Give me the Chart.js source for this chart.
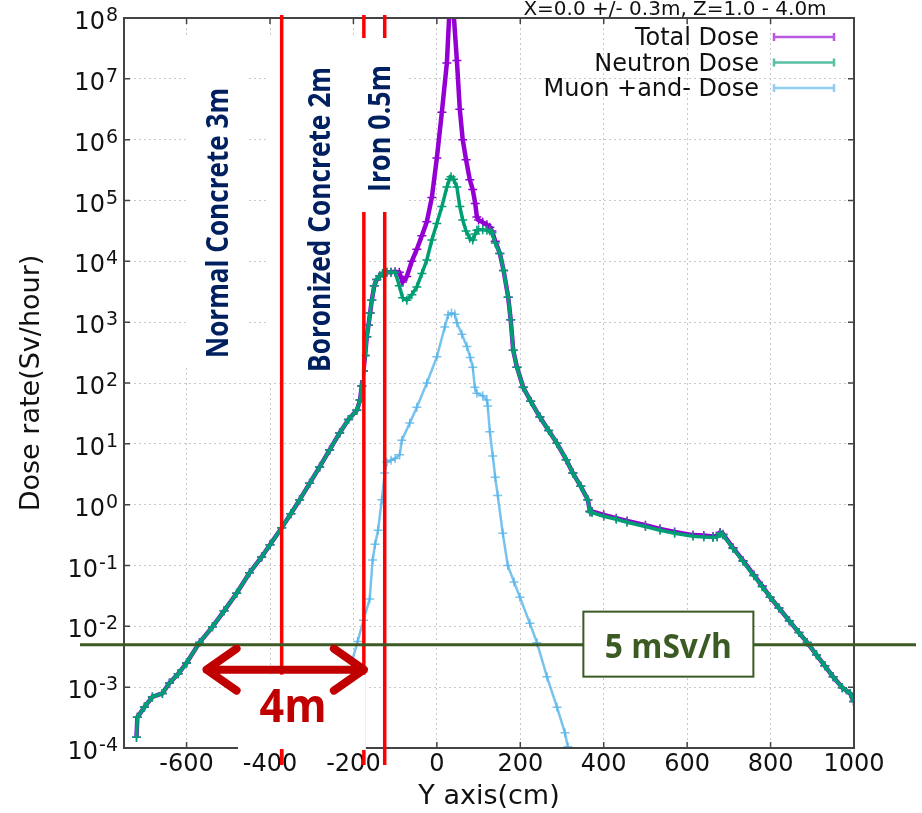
<!DOCTYPE html>
<html lang="en">
<head>
<meta charset="UTF-8">
<title>Dose rate along Y axis</title>
<script src="https://cdn.jsdelivr.net/npm/chart.js"></script>
<style>
    body { margin: 0; background: #fff; }
    #wrap { width: 922px; height: 813px; }
</style>
</head>
<body>
<div id="wrap"><canvas id="chart" width="922" height="813"></canvas></div>
<script>
// Y position (cm) shared by total and neutron dose
const posTN = [-720, -718, -701, -682, -658, -641, -620, -600, -569, -538,
    -510, -480, -449, -420, -400, -372, -350, -329, -305, -281,
    -257, -233, -212, -192, -184, -180, -176, -172, -168, -164,
    -160, -156, -150, -144, -137, -130, -120, -110, -100, -90,
    -82, -72, -60, -48, -36, -24, -12, 0, 12, 24,
    30, 34, 40, 48, 55, 62, 70, 79, 86, 92,
    96, 100, 110, 120, 127, 132, 140, 151, 160, 171,
    177, 183, 192, 207, 225, 247, 268, 288, 310, 326,
    345, 362, 367, 372, 400, 430, 456, 500, 535, 570,
    614, 640, 662, 672, 679, 686, 710, 734, 760, 780,
    799, 820, 845, 868, 888, 910, 930, 950, 972, 991, 999];

// Sv/hour
const totalDose = [1.5e-4, 3.2e-4, 4.7e-4, 6.9e-4, 7.9e-4, 1.17e-3, 1.66e-3, 2.5e-3, 5.4e-3, 9.8e-3,
    0.018, 0.035, 0.076, 0.138, 0.219, 0.417, 0.708, 1.2, 2.24, 4.17,
    7.94, 15.1, 25.1, 35.5, 52.5, 89, 158, 282, 575, 891,
    1410, 2290, 3980, 5010, 5750, 6310, 6610, 6610, 6760, 6610,
    4570, 5620, 10000, 15800, 26300, 44700, 112000, 501000, 2.82e6, 1.82e7,
    1.26e8, 3.16e8, 1.26e8, 2.0e7, 3.16e6, 1.0e6, 468000, 219000, 151000, 89100,
    53700, 47900, 43700, 39800, 36300, 31600, 21400, 13500, 7080, 2570,
    1100, 347, 182, 85.1, 50.1, 27.5, 16.6, 10.2, 5.5, 3.31,
    2.0, 1.2, 0.78, 0.77, 0.68, 0.6, 0.54, 0.46, 0.4, 0.355,
    0.316, 0.31, 0.3, 0.305, 0.35, 0.326, 0.196, 0.12, 0.0695, 0.046,
    0.0302, 0.02, 0.0123, 7.9e-3, 5.4e-3, 3.4e-3, 2.24e-3, 1.48e-3, 9.8e-4, 7.9e-4, 5.8e-4];

const neutronDose = [1.5e-4, 3.2e-4, 4.7e-4, 6.9e-4, 7.9e-4, 1.17e-3, 1.66e-3, 2.5e-3, 5.4e-3, 9.8e-3,
    0.018, 0.035, 0.076, 0.138, 0.219, 0.417, 0.708, 1.2, 2.24, 4.17,
    7.94, 15.1, 25.1, 35.5, 52.5, 89, 158, 282, 575, 891,
    1410, 2290, 3980, 5010, 5750, 6310, 6610, 6610, 6610, 3980,
    2510, 2290, 2820, 3800, 6310, 10500, 22400, 41700, 79400, 166000,
    224000, 245000, 224000, 166000, 79400, 47900, 31600, 24000, 22400, 28200,
    32400, 33100, 33100, 32400, 31600, 29500, 20000, 13500, 7080, 2570,
    1100, 347, 182, 85.1, 50.1, 27.5, 16.6, 10.2, 5.5, 3.31,
    2.0, 1.2, 0.759, 0.741, 0.646, 0.575, 0.513, 0.437, 0.38, 0.339,
    0.302, 0.295, 0.288, 0.295, 0.339, 0.316, 0.19, 0.117, 0.0676, 0.0447,
    0.0302, 0.02, 0.0123, 7.9e-3, 5.4e-3, 3.4e-3, 2.24e-3, 1.48e-3, 9.8e-4, 7.9e-4, 5.8e-4];

const posMuon = [-204, -190, -176, -161, -154, -148, -141, -132, -125, -120,
    -110, -100, -89, -84, -65, -48, -24, 0, 19, 27,
    35, 43, 48, 60, 72, 80, 86, 91, 96, 110,
    120, 122, 127, 134, 140, 146, 158, 170, 185, 199,
    223, 240, 264, 288, 307, 314];

const muonDose = [2.57e-3, 5.62e-3, 0.0126, 0.0282, 0.123, 0.224, 0.38, 1.2, 3.31, 5.01,
    5.37, 5.75, 6.61, 11.5, 21.9, 39.8, 100, 269, 832, 1320,
    1410, 1350, 977, 631, 398, 263, 182, 85.1, 67.6, 61.7,
    52.5, 41.7, 15.8, 6.31, 2.82, 1.41, 0.339, 0.1, 0.0537, 0.0302,
    0.0112, 5.37e-3, 1.48e-3, 4.68e-4, 1.78e-4, 1.05e-4];

const xTicks = [-600, -400, -200, 0, 200, 400, 600, 800, 1000];
const yTicks = [1e-4, 1e-3, 1e-2, 1e-1, 1, 1e1, 1e2, 1e3, 1e4, 1e5, 1e6, 1e7, 1e8];
const yExponents = ['-4', '-3', '-2', '-1', '0', '1', '2', '3', '4', '5', '6', '7', '8'];

// shield layer boundaries (cm) and the 5 mSv/h limit
const wallEdges = [-372, -175, -125];
const limitDose = 5e-3;
const seriesNames = ['Total Dose', 'Neutron Dose', 'Muon +and- Dose'];
const seriesColors = ['#9400d3', '#009e73', '#56b4e9'];

const pts = (xs, ys) => xs.map((x, i) => ({ x: x, y: ys[i] }));
const FONT = "'DejaVu Sans', sans-serif";

// draws text rotated bottom-to-top, squeezed to a target length
function vText(ctx, text, x, y, len, font, color) {
    ctx.save();
    ctx.font = font;
    ctx.fillStyle = color;
    ctx.textAlign = 'left';
    ctx.textBaseline = 'alphabetic';
    ctx.translate(x, y);
    ctx.rotate(-Math.PI / 2);
    ctx.scale(len / ctx.measureText(text).width, 1);
    ctx.fillText(text, 0, 0);
    ctx.restore();
}
function hText(ctx, text, cx, y, len, font, color) {
    ctx.save();
    ctx.font = font;
    ctx.fillStyle = color;
    ctx.textAlign = 'center';
    ctx.textBaseline = 'alphabetic';
    ctx.translate(cx, y);
    ctx.scale(len / ctx.measureText(text).width, 1);
    ctx.fillText(text, 0, 0);
    ctx.restore();
}

const decor = {
    id: 'decor',
    afterDraw(chart) {
        const { ctx, chartArea: a, scales: { x, y } } = chart;
        ctx.save();

        // frame and inward ticks
        ctx.strokeStyle = '#444';
        ctx.lineWidth = 2;
        ctx.strokeRect(a.left, a.top, a.right - a.left, a.bottom - a.top);
        ctx.lineWidth = 1.5;
        ctx.beginPath();
        xTicks.forEach(v => {
            const px = x.getPixelForValue(v);
            ctx.moveTo(px, a.bottom); ctx.lineTo(px, a.bottom - 6);
            ctx.moveTo(px, a.top); ctx.lineTo(px, a.top + 6);
        });
        yTicks.forEach(v => {
            const py = y.getPixelForValue(v);
            ctx.moveTo(a.left, py); ctx.lineTo(a.left + 6, py);
            ctx.moveTo(a.right, py); ctx.lineTo(a.right - 6, py);
        });
        ctx.stroke();

        // y tick labels 10^n
        ctx.fillStyle = '#111';
        ctx.textAlign = 'right';
        ctx.textBaseline = 'alphabetic';
        yTicks.forEach((v, i) => {
            const py = y.getPixelForValue(v);
            ctx.font = '19px ' + FONT;
            const ew = ctx.measureText(yExponents[i]).width;
            ctx.fillText(yExponents[i], a.left - 6, py + 3);
            ctx.font = '24px ' + FONT;
            ctx.fillText('10', a.left - 7 - ew, py + 11);
        });

        // header
        ctx.textAlign = 'center';
        ctx.font = '20px ' + FONT;
        ctx.fillText('X=0.0 +/- 0.3m, Z=1.0 - 4.0m', 675, 15);

        // legend
        seriesNames.forEach((name, i) => {
            const ly = 37 + i * 25.5;
            ctx.fillStyle = '#111';
            ctx.textAlign = 'right';
            ctx.font = '24px ' + FONT;
            ctx.fillText(name, 759, ly + 8);
            ctx.strokeStyle = seriesColors[i];
            ctx.globalAlpha = 0.65;
            ctx.lineWidth = 2.5;
            ctx.beginPath();
            ctx.moveTo(774, ly); ctx.lineTo(834, ly);
            ctx.moveTo(774, ly - 4); ctx.lineTo(774, ly + 4);
            ctx.moveTo(834, ly - 4); ctx.lineTo(834, ly + 4);
            ctx.stroke();
            ctx.globalAlpha = 1;
        });

        // label boxes for the layer names
        const wx = wallEdges.map(v => x.getPixelForValue(v));
        ctx.fillStyle = '#fff';
        ctx.fillRect(186, 35, 60, 331);
        ctx.fillRect(wx[0] - 14, 35, wx[1] - wx[0] + 12, 345);

        // layer boundaries
        ctx.strokeStyle = '#ff0000';
        ctx.lineWidth = 3.5;
        ctx.beginPath();
        wx.forEach(px => { ctx.moveTo(px, 15); ctx.lineTo(px, 765); });
        ctx.stroke();
        ctx.fillStyle = '#fff';
        ctx.fillRect(wx[1] - 2, 38, wx[2] - wx[1] + 24, 174);

        const navy = '#002060';
        vText(ctx, 'Normal Concrete 3m', 228, 358, 270, "700 30px 'Open Sans', sans-serif", navy);
        vText(ctx, 'Boronized Concrete 2m', 330, 372, 305, "700 30px 'Open Sans', sans-serif", navy);
        vText(ctx, 'Iron 0.5m', 390, 192, 127, "700 30px 'Open Sans', sans-serif", navy);

        // 5 mSv/h limit line with its label box
        const green = '#3b5a24';
        const ly = y.getPixelForValue(limitDose);
        ctx.strokeStyle = green;
        ctx.lineWidth = 3;
        ctx.beginPath();
        ctx.moveTo(80, ly); ctx.lineTo(916, ly);
        ctx.stroke();
        const bx = x.getPixelForValue(555);
        ctx.fillStyle = '#fff';
        ctx.fillRect(bx - 85, ly - 33, 170, 65);
        ctx.lineWidth = 2;
        ctx.strokeRect(bx - 85, ly - 33, 170, 65);
        hText(ctx, '5 mSv/h', bx, ly + 13, 127, "700 34px 'Open Sans', sans-serif", green);

        // 4m span arrow
        const ax0 = x.getPixelForValue(-552), ax1 = wx[1];
        const ay = ly + 25;
        ctx.fillStyle = '#fff';
        ctx.fillRect(238, ay + 5, wx[1] + 2 - 238, 750 - ay - 5);
        ctx.strokeStyle = '#ff0000';
        ctx.lineWidth = 3.5;
        ctx.beginPath();
        ctx.moveTo(wx[0], 749); ctx.lineTo(wx[0], 765);
        ctx.stroke();
        const dark = '#c00000';
        ctx.strokeStyle = dark;
        ctx.lineWidth = 8;
        ctx.lineCap = 'round';
        ctx.lineJoin = 'round';
        ctx.beginPath();
        ctx.moveTo(ax0, ay); ctx.lineTo(ax1, ay);
        ctx.moveTo(ax0 + 30, ay - 21); ctx.lineTo(ax0, ay); ctx.lineTo(ax0 + 30, ay + 21);
        ctx.moveTo(ax1 - 30, ay - 21); ctx.lineTo(ax1, ay); ctx.lineTo(ax1 - 30, ay + 21);
        ctx.stroke();
        hText(ctx, '4m', 293, ay + 52, 67, "700 46px 'Open Sans', sans-serif", dark);

        ctx.restore();
    }
};

const ds = (label, data, color, order, width) => ({
    label: label,
    data: data,
    borderColor: color,
    backgroundColor: color,
    pointBorderColor: color,
    borderWidth: width,
    pointStyle: 'cross',
    pointRadius: 4.5,
    pointBorderWidth: 1.5,
    order: order
});

new Chart(document.getElementById('chart').getContext('2d'), {
    type: 'line',
    data: {
        datasets: [
            ds(seriesNames[0], pts(posTN, totalDose), seriesColors[0], 3, 4.5),
            ds(seriesNames[1], pts(posTN, neutronDose), seriesColors[1], 2, 3.5),
            ds(seriesNames[2], pts(posMuon, muonDose), 'rgba(86,180,233,0.8)', 1, 2.5)
        ]
    },
    options: {
        responsive: false,
        animation: false,
        layout: { padding: { top: 18, right: 68, left: 0, bottom: 0 } },
        plugins: { legend: { display: false }, tooltip: { enabled: false } },
        scales: {
            x: {
                type: 'linear',
                min: -750,
                max: 1000,
                afterFit: s => { s.height = 65; },
                afterBuildTicks: s => { s.ticks = xTicks.map(v => ({ value: v })); },
                ticks: {
                    font: { family: FONT, size: 24 }, color: '#111', padding: 2,
                    maxRotation: 0, autoSkip: false,
                    callback: v => String(v)
                },
                grid: { color: '#c8c8c8', lineWidth: 1, drawTicks: false },
                border: { display: false, dash: [2, 3] },
                title: { display: true, text: 'Y axis(cm)', font: { family: FONT, size: 27 }, color: '#111', padding: { top: 0, bottom: 0 } }
            },
            y: {
                type: 'logarithmic',
                min: 1e-4,
                max: 1e8,
                afterFit: s => { s.width = 124; },
                afterBuildTicks: s => { s.ticks = yTicks.map(v => ({ value: v })); },
                ticks: { display: false },
                grid: { color: '#c8c8c8', lineWidth: 1, drawTicks: false },
                border: { display: false, dash: [2, 3] },
                title: { display: true, text: 'Dose rate(Sv/hour)', font: { family: FONT, size: 27 }, color: '#111', padding: { top: 16, bottom: 0 } }
            }
        }
    },
    plugins: [decor]
});
</script>
</body>
</html>
